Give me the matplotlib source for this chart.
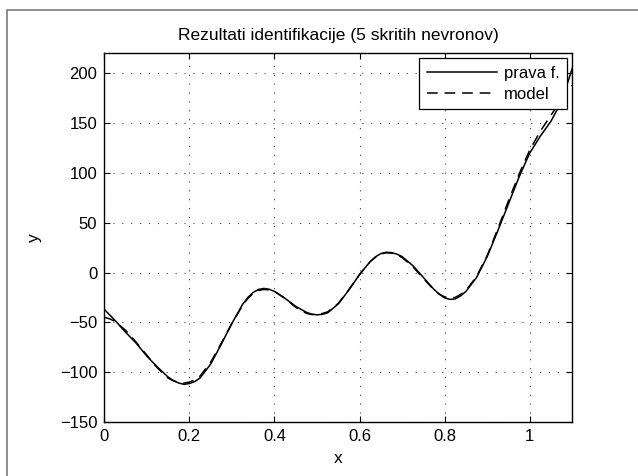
import numpy as np
import matplotlib
matplotlib.use("Agg")
import matplotlib.pyplot as plt
from matplotlib.lines import Line2D

plt.rcParams["font.family"] = ["Liberation Sans", "DejaVu Sans"]

# values
x_vals = [0.000, 0.0125, 0.025, 0.050, 0.075, 0.100, 0.125, 0.150, 0.1625, 0.175,
          0.1875, 0.200, 0.2125, 0.225, 0.250, 0.275, 0.300, 0.325, 0.3375, 0.350,
          0.3625, 0.375, 0.3875, 0.400, 0.425, 0.450, 0.475, 0.4875, 0.500, 0.5125,
          0.525, 0.550, 0.575, 0.600, 0.625, 0.6375, 0.650, 0.6625, 0.675, 0.6875,
          0.700, 0.725, 0.750, 0.775, 0.7875, 0.800, 0.8125, 0.825, 0.8375, 0.850,
          0.875, 0.900, 0.925, 0.950, 0.975, 1.000, 1.025, 1.050, 1.075, 1.100]
y_true = [-37, -42.5, -48, -60, -71, -84, -95, -105, -108.5, -111,
          -112.3, -111.5, -109.5, -106, -92, -72, -51, -32, -25, -20,
          -17, -16, -16.8, -19, -26, -34, -40, -41.8, -42.5, -42,
          -40.5, -31.5, -17.5, -2, 11, 15.8, 19, 20.3, 20, 18.5,
          16, 7, -5, -17, -21.8, -25.5, -27, -26.5, -23.5, -19,
          -5, 16, 42, 69, 96, 120, 137, 152, 172, 205]
y_model = [-45, -46.5, -49, -58, -70, -83, -96, -106, -108.8, -110.5,
           -111, -110, -107.8, -104, -90, -71, -51, -33, -26, -21,
           -18, -17, -17.5, -19, -26, -35, -41, -42.2, -42, -41.2,
           -39.5, -31, -17, -2, 11, 15.3, 18.5, 19.8, 19.5, 17.8,
           15, 6, -6, -17.5, -21.8, -24.5, -25.7, -25, -22, -18,
           -4, 17, 44, 72, 99, 123, 142, 158, 174, 188]
legend_labels = ["prava f.", "model"]
x_ticks = [0, 0.2, 0.4, 0.6, 0.8, 1]
y_ticks = [-150, -100, -50, 0, 50, 100, 150, 200]

fig = plt.figure(figsize=(6.38, 4.76), dpi=100)

# grey frame from the cropped matlab figure window
fig.add_artist(Line2D([1.05, 7 / 638, 7 / 638], [1 - 10 / 476, 1 - 10 / 476, -0.05],
                      transform=fig.transFigure, color="#7a7a7a", linewidth=1.2))

ax = fig.add_axes([104.3 / 638, (476 - 421.9) / 476, 468 / 638, 368.5 / 476])

ax.plot(x_vals, y_true, color="black", linewidth=1.1, label=legend_labels[0],
        solid_joinstyle="round")
ax.plot(x_vals, y_model, color="black", linewidth=1.1, linestyle=(0, (7, 4.5)),
        label=legend_labels[1])

ax.set_xlim(0, 1.1)
ax.set_ylim(-150, 220)
ax.set_xticks(x_ticks)
ax.set_xticklabels(["0", "0.2", "0.4", "0.6", "0.8", "1"])
ax.set_yticks(y_ticks)

ax.grid(True, linestyle=(0, (1, 7)), color="#444444", linewidth=0.8)
ax.tick_params(direction="in", length=4, width=0.8, top=True, right=True,
               labelsize=12, pad=5)
for s in ax.spines.values():
    s.set_linewidth(1.0)

ax.set_title("Rezultati identifikacije (5 skritih nevronov)", fontsize=12.5, pad=10)
ax.set_xlabel("x", fontsize=12.5, labelpad=5)
ax.set_ylabel("y", fontsize=12.5, labelpad=13)

leg = ax.legend(loc="upper right", fontsize=12, fancybox=False, framealpha=1,
                edgecolor="black", borderaxespad=0.3, handlelength=4.2,
                handletextpad=0.45, borderpad=0.45, labelspacing=0.35)
leg.get_frame().set_linewidth(0.9)

fig.savefig("out.png", dpi=100)
